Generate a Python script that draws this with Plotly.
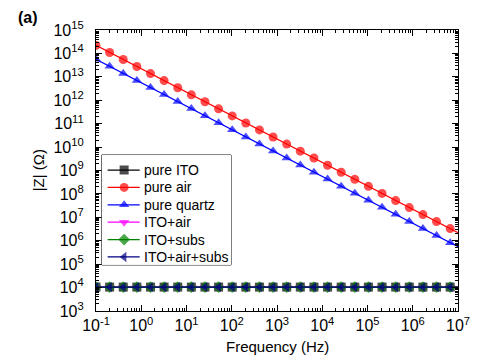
import plotly.graph_objects as go

freq = [0.1, 0.2, 0.4, 0.8, 1.6, 3.2, 6.4, 12.8, 25.6, 51.2, 102.4, 204.8, 409.6,
        819.2, 1638.4, 3276.8, 6553.6, 13107.2, 26214.4, 52428.8, 104857.6,
        209715.2, 419430.4, 838860.8, 1677721.6, 3355443.2, 6710886.4, 1e7]

z_pure_air = [2.2e14, 1.1e14, 5.5e13, 2.75e13, 1.38e13, 6.9e12, 3.4e12, 1.7e12,
              8.6e11, 4.3e11, 2.15e11, 1.07e11, 5.4e10, 2.7e10, 1.34e10, 6.7e9,
              3.4e9, 1.68e9, 8.4e8, 4.2e8, 2.1e8, 1.05e8, 5.2e7, 2.6e7, 1.31e7,
              6.6e6, 3.3e6, 2.2e6]
z_pure_quartz = [5.6e13, 2.8e13, 1.4e13, 7.0e12, 3.5e12, 1.75e12, 8.75e11, 4.4e11,
                 2.2e11, 1.09e11, 5.5e10, 2.7e10, 1.37e10, 6.8e9, 3.4e9, 1.7e9,
                 8.5e8, 4.3e8, 2.1e8, 1.07e8, 5.3e7, 2.7e7, 1.34e7, 6.7e6, 3.3e6,
                 1.67e6, 8.3e5, 5.6e5]
z_pure_ito = [1.05e4, 1.05e4, 1.05e4, 1.05e4, 1.05e4, 1.05e4, 1.05e4, 1.05e4, 1.05e4,
              1.05e4, 1.05e4, 1.05e4, 1.05e4, 1.05e4, 1.05e4, 1.05e4, 1.05e4, 1.05e4,
              1.05e4, 1.05e4, 1.05e4, 1.05e4, 1.05e4, 1.05e4, 1.05e4, 1.05e4, 1.05e4,
              1.05e4]
z_ito_air = [1.04e4, 1.04e4, 1.04e4, 1.04e4, 1.04e4, 1.04e4, 1.04e4, 1.04e4, 1.04e4,
             1.04e4, 1.04e4, 1.04e4, 1.04e4, 1.04e4, 1.04e4, 1.04e4, 1.04e4, 1.04e4,
             1.04e4, 1.04e4, 1.04e4, 1.04e4, 1.04e4, 1.04e4, 1.04e4, 1.04e4, 1.04e4,
             1.04e4]
z_ito_subs = [1.05e4, 1.05e4, 1.05e4, 1.05e4, 1.05e4, 1.05e4, 1.05e4, 1.05e4, 1.05e4,
              1.05e4, 1.05e4, 1.05e4, 1.05e4, 1.05e4, 1.05e4, 1.05e4, 1.05e4, 1.05e4,
              1.05e4, 1.05e4, 1.05e4, 1.05e4, 1.05e4, 1.05e4, 1.05e4, 1.05e4, 1.05e4,
              1.05e4]
z_ito_air_subs = [1.05e4, 1.05e4, 1.05e4, 1.05e4, 1.05e4, 1.05e4, 1.05e4, 1.05e4, 1.05e4,
                  1.05e4, 1.05e4, 1.05e4, 1.05e4, 1.05e4, 1.05e4, 1.05e4, 1.05e4, 1.05e4,
                  1.05e4, 1.05e4, 1.05e4, 1.05e4, 1.05e4, 1.05e4, 1.05e4, 1.05e4, 1.05e4,
                  1.05e4]

series_names = ["pure ITO", "pure air", "pure quartz", "ITO+air", "ITO+subs", "ITO+air+subs"]
series_values = [z_pure_ito, z_pure_air, z_pure_quartz, z_ito_air, z_ito_subs, z_ito_air_subs]
series_colors = ["#000000", "#FF0000", "#0000FF", "#FF00FF", "#008000", "#000080"]
series_symbols = ["square", "circle", "triangle-up", "triangle-down", "diamond", "triangle-left"]

x_exps = [-1, 0, 1, 2, 3, 4, 5, 6, 7]
y_exps = [3, 4, 5, 6, 7, 8, 9, 10, 11, 12, 13, 14, 15]

FONT = "Liberation Sans, Arial, sans-serif"

fig = go.Figure()
n = len(freq)
for name, vals, col, sym in zip(series_names, series_values, series_colors, series_symbols):
    sizes = [9] * (n - 1) + [0]
    fig.add_trace(go.Scatter(
        x=freq, y=vals, name=name, mode="lines+markers", showlegend=False,
        xaxis="x", yaxis="y",
        line=dict(color=col, width=1.2),
        marker=dict(symbol=sym, color=col, size=sizes, line=dict(width=0)),
    ))

# Hand-built legend on an overlay axis measured in pixels of the legend box
LEG_W, LEG_H = 133, 110
row_pitch = 17.4
for i, (name, col, sym) in enumerate(zip(series_names, series_colors, series_symbols)):
    yc = 15 + row_pitch * i
    fig.add_trace(go.Scatter(
        x=[6, 23, 39], y=[yc, yc, yc], mode="lines+markers", showlegend=False,
        xaxis="x2", yaxis="y2", hoverinfo="skip",
        line=dict(color=col, width=1.2),
        marker=dict(symbol=sym, color=col, size=[0, 9, 0], line=dict(width=0)),
    ))
    fig.add_annotation(text=name, xref="x2", yref="y2", x=41, y=yc,
                       xanchor="left", yanchor="middle", showarrow=False,
                       font=dict(family=FONT, size=14, color="black"))

def minor_vals(exps):
    out = []
    for e in exps[:-1]:
        for k in range(2, 10):
            out.append(k * 10.0 ** e)
    return out

xaxis = dict(
    type="log", range=[-1, 7],
    tickvals=[10.0 ** e for e in x_exps],
    ticktext=["10<sup>%d</sup>" % e for e in x_exps],
    ticks="inside", ticklen=6, tickwidth=1, tickcolor="black",
    minor=dict(tickvals=minor_vals(x_exps), ticks="inside", ticklen=3,
               tickwidth=1, tickcolor="black", showgrid=False),
    showline=True, linecolor="black", linewidth=1.2, mirror="allticks",
    showgrid=False, zeroline=False,
    tickfont=dict(family=FONT, size=16, color="black"),
)
yaxis = dict(
    type="log", range=[3, 15],
    tickvals=[10.0 ** e for e in y_exps],
    ticktext=["10<sup>%d</sup>" % e for e in y_exps],
    ticks="inside", ticklen=6, tickwidth=1, tickcolor="black",
    minor=dict(tickvals=minor_vals(y_exps), ticks="inside", ticklen=3,
               tickwidth=1, tickcolor="black", showgrid=False),
    showline=True, linecolor="black", linewidth=1.2, mirror="allticks",
    showgrid=False, zeroline=False, ticklabelstandoff=8,
    tickfont=dict(family=FONT, size=16, color="black"),
)

leg_x0, leg_x1 = 0.016, 0.373
leg_y0, leg_y1 = 0.164, 0.555

fig.update_layout(
    width=482, height=360,
    margin=dict(l=96, r=13, t=30, b=49),
    paper_bgcolor="white", plot_bgcolor="white",
    font=dict(family=FONT, color="black"),
    xaxis=xaxis, yaxis=yaxis,
    xaxis2=dict(domain=[leg_x0, leg_x1], range=[0, LEG_W], anchor="y2",
                visible=False, fixedrange=True),
    yaxis2=dict(domain=[leg_y0, leg_y1], range=[LEG_H, 0], anchor="x2",
                visible=False, fixedrange=True),
    shapes=[dict(type="rect", xref="paper", yref="paper",
                 x0=leg_x0, x1=leg_x1, y0=leg_y0, y1=leg_y1,
                 line=dict(color="black", width=1), fillcolor="white", layer="below")],
)
fig.add_annotation(text="<b>(a)</b>", xref="paper", yref="paper",
                   x=-0.222, y=1.044, xanchor="left", yanchor="middle",
                   showarrow=False, font=dict(family=FONT, size=16, color="black"))
fig.add_annotation(text="|Z| (Ω)", xref="paper", yref="paper", textangle=-90,
                   x=-0.158, y=0.5, xanchor="center", yanchor="middle",
                   showarrow=False, font=dict(family=FONT, size=15, color="black"))
fig.add_annotation(text="Frequency (Hz)", xref="paper", yref="paper",
                   x=0.5, y=-0.1246, xanchor="center", yanchor="middle",
                   showarrow=False, font=dict(family=FONT, size=15, color="black"))

fig.write_html("out.html")
